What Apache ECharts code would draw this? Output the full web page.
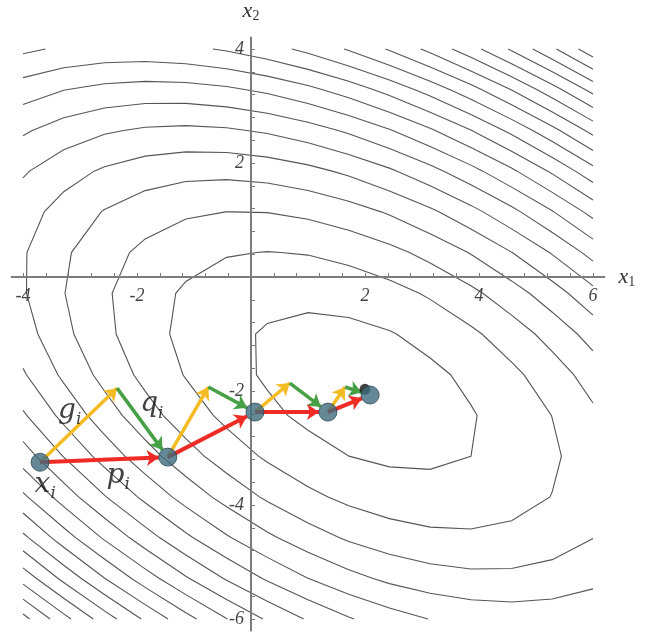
<!DOCTYPE html>
<html>
<head>
<meta charset="utf-8">
<script src="https://cdn.jsdelivr.net/npm/echarts@6/dist/echarts.min.js"></script>
<style>
html,body{margin:0;padding:0;background:#fff;}
#chart{width:655px;height:633px;}
</style>
</head>
<body>
<div id="chart"></div>
<script>
// ---- data ----
// quadratic field f = a*dx^2 + b*dx*dy + c*dy^2 around its minimum
const fieldCenter = [2, -2];
const fieldCoef = [1, 1.38, 2];
const contourLevels = [3.14, 9.14, 15.14, 21.14, 27.14, 33.14, 39.14, 45.14, 51.14, 57.14,
                       63.14, 69.14, 75.14, 81.14, 87.14, 93.14, 99.14, 105.14, 111.14, 117.14];
const sampleRangeX = [-4, 6];
const sampleRangeY = [-6, 4];
const samplePoints = 15;

// iterates x_i
const iterX = [-3.70, -1.46, 0.07, 1.35, 2.09];
const iterY = [-3.25, -3.16, -2.37, -2.37, -2.07];
// tips of the gradient (yellow) arrows
const gradTipX = [-2.35, -0.75, 0.68, 1.65];
const gradTipY = [-1.95, -1.93, -1.86, -1.93];
// true minimum (black dot)
const minimumPoint = [2.0, -1.97];

// tick labels
const xTickLabels = [-4, -2, 2, 4, 6];
const yTickLabels = [-6, -4, -2, 2, 4];
const tickStep = 0.4;

// annotations
const annotationBase = ['g', 'q', 'x', 'p'];
const annotationSub = ['i', 'i', 'i', 'i'];
const annotationX = [-3.18, -1.74, -3.61, -2.33];
const annotationY = [-2.34, -2.23, -3.65, -3.48];

// ---- layout ----
const xMin = -4.2, xMax = 6.2, yMin = -6.2, yMax = 4.2;
const gridLeft = 11.6, gridTop = 37.6, gridW = 592.8, gridH = 592.8;
const pxPerUnit = gridW / (xMax - xMin);
const pointSize = 18;
const headLen = 12;
// shift the axes so that they cross at the origin
const xAxisOffset = -(gridH * (0 - yMin) / (yMax - yMin));
const yAxisOffset = -(gridW * (0 - xMin) / (xMax - xMin));

function fieldValue(x, y) {
  const dx = x - fieldCenter[0], dy = y - fieldCenter[1];
  return fieldCoef[0] * dx * dx + fieldCoef[1] * dx * dy + fieldCoef[2] * dy * dy;
}

function traceContours(level) {
  const n = samplePoints;
  const xs = [], ys = [];
  for (let i = 0; i < n; i++) {
    xs.push(sampleRangeX[0] + (sampleRangeX[1] - sampleRangeX[0]) * i / (n - 1));
    ys.push(sampleRangeY[0] + (sampleRangeY[1] - sampleRangeY[0]) * i / (n - 1));
  }
  const val = [];
  for (let i = 0; i < n; i++) {
    val.push([]);
    for (let j = 0; j < n; j++) val[i].push(fieldValue(xs[i], ys[j]));
  }
  const pts = {};
  function edgePoint(key, i0, j0, i1, j1) {
    if (!pts[key]) {
      const a = val[i0][j0], b = val[i1][j1];
      const t = (level - a) / (b - a);
      pts[key] = [xs[i0] + (xs[i1] - xs[i0]) * t, ys[j0] + (ys[j1] - ys[j0]) * t];
    }
    return key;
  }
  const segs = [];
  for (let i = 0; i < n - 1; i++) {
    for (let j = 0; j < n - 1; j++) {
      const corners = [[i, j], [i + 1, j], [i + 1, j + 1], [i, j + 1]];
      const keys = ['h' + i + '_' + j, 'v' + (i + 1) + '_' + j, 'h' + i + '_' + (j + 1), 'v' + i + '_' + j];
      const e = [];
      for (let k = 0; k < 4; k++) {
        const p = corners[k], q = corners[(k + 1) % 4];
        if ((val[p[0]][p[1]] >= level) !== (val[q[0]][q[1]] >= level)) {
          e.push(edgePoint(keys[k], p[0], p[1], q[0], q[1]));
        }
      }
      if (e.length === 2) segs.push(e);
      else if (e.length === 4) { segs.push([e[0], e[1]]); segs.push([e[2], e[3]]); }
    }
  }
  const adj = {};
  segs.forEach((s, idx) => s.forEach(k => { (adj[k] = adj[k] || []).push(idx); }));
  const used = new Array(segs.length).fill(false);
  const out = [];
  function walk(startKey, segIdx) {
    const keys = [startKey];
    let cur = startKey, si = segIdx;
    while (si !== undefined && !used[si]) {
      used[si] = true;
      const s = segs[si];
      const next = s[0] === cur ? s[1] : s[0];
      keys.push(next);
      cur = next;
      si = (adj[cur] || []).find(x => !used[x]);
    }
    return keys.map(k => pts[k]);
  }
  Object.keys(adj).forEach(k => {
    if (adj[k].length === 1 && !used[adj[k][0]]) out.push(walk(k, adj[k][0]));
  });
  segs.forEach((s, idx) => { if (!used[idx]) out.push(walk(s[0], idx)); });
  return out;
}

const contourData = [];
contourLevels.forEach(l => traceContours(l).forEach(c => contourData.push({ coords: c })));

function arrow(from, to, backPx) {
  const dx = to[0] - from[0], dy = to[1] - from[1];
  const len = Math.hypot(dx, dy);
  const s = backPx / pxPerUnit / len;
  return { coords: [from, [to[0] - dx * s, to[1] - dy * s]] };
}

const iterPts = iterX.map((x, i) => [x, iterY[i]]);
const tipPts = gradTipX.map((x, i) => [x, gradTipY[i]]);
const redData = [], yellowData = [], greenData = [];
for (let k = 0; k < iterPts.length - 1; k++) {
  redData.push(arrow(iterPts[k], iterPts[k + 1], pointSize / 2));
  yellowData.push(arrow(iterPts[k], tipPts[k], 0));
  greenData.push(arrow(tipPts[k], iterPts[k + 1], pointSize / 2));
}

const xTickValues = [], yTickValues = [];
for (let v = -4; v <= 6.0001; v += tickStep) xTickValues.push(Math.round(v * 10) / 10);
for (let v = -6; v <= 4.0001; v += tickStep) yTickValues.push(Math.round(v * 10) / 10);

const serifFont = "'Liberation Serif', 'DejaVu Serif', serif";
const mathFont = "'DejaVu Serif', 'Liberation Serif', serif";
const nameRich = {
  v: { fontFamily: serifFont, fontStyle: 'italic', fontSize: 22, color: '#333' },
  s: { fontFamily: serifFont, fontSize: 14, color: '#333', padding: [10, 0, 0, 0] }
};
const axisLabelStyle = { fontFamily: serifFont, fontStyle: 'italic', fontSize: 18, color: '#444' };

const arrowSeries = (data, color, width) => ({
  type: 'lines', coordinateSystem: 'cartesian2d', data: data,
  symbol: ['none', 'arrow'], symbolSize: [8, headLen],
  lineStyle: { color: color, width: width, opacity: 1, curveness: 0 },
  silent: true, z: 4, animation: false
});

const chart = echarts.init(document.getElementById('chart'), null, { renderer: 'canvas' });
chart.setOption({
  backgroundColor: '#ffffff',
  animation: false,
  grid: { left: gridLeft, top: gridTop, width: gridW, height: gridH, containLabel: false, outerBoundsMode: 'none' },
  xAxis: {
    type: 'value', min: xMin, max: xMax, z: 3, position: 'bottom', offset: xAxisOffset,
    axisLine: { onZero: false, lineStyle: { color: '#7c7c7c', width: 2 } },
    axisTick: { show: true, inside: true, length: 4, customValues: xTickValues, lineStyle: { color: '#7c7c7c', width: 1 } },
    axisLabel: Object.assign({ customValues: xTickLabels, margin: 10 }, axisLabelStyle),
    splitLine: { show: false },
    name: '{v|x}{s|1}', nameLocation: 'end', nameGap: 14,
    nameTextStyle: { rich: nameRich, verticalAlign: 'middle' }
  },
  yAxis: {
    type: 'value', min: yMin, max: yMax, z: 3, position: 'left', offset: yAxisOffset,
    axisLine: { onZero: false, lineStyle: { color: '#7c7c7c', width: 2 } },
    axisTick: { show: true, inside: true, length: 4, customValues: yTickValues, lineStyle: { color: '#7c7c7c', width: 1 } },
    axisLabel: Object.assign({ customValues: yTickLabels, margin: 7 }, axisLabelStyle),
    splitLine: { show: false },
    name: '{v|x}{s|2}', nameLocation: 'end', nameGap: 14,
    nameTextStyle: { rich: nameRich }
  },
  series: [
    {
      type: 'lines', coordinateSystem: 'cartesian2d', polyline: true, data: contourData,
      lineStyle: { color: '#555555', width: 1.1, opacity: 1 }, symbol: 'none',
      silent: true, z: 1, animation: false
    },
    arrowSeries(yellowData, '#f4bc22', 3.5),
    arrowSeries(greenData, '#47a046', 3.5),
    arrowSeries(redData, '#ef2b25', 4),
    {
      type: 'scatter', data: [minimumPoint], symbolSize: 11,
      itemStyle: { color: '#111111' }, silent: true, z: 5, animation: false
    },
    {
      type: 'scatter', data: iterPts, symbolSize: pointSize,
      itemStyle: { color: '#3f6b7d', borderColor: '#2a4855', borderWidth: 1 },
      silent: true, z: 6, animation: false
    },
    {
      type: 'scatter', symbolSize: 0, itemStyle: { color: 'transparent' }, silent: true, z: 7, animation: false,
      data: annotationX.map((x, i) => [x, annotationY[i]]),
      label: {
        show: true, position: 'inside',
        formatter: p => '{v|' + annotationBase[p.dataIndex] + '}{s|' + annotationSub[p.dataIndex] + '}',
        rich: {
          v: { fontFamily: mathFont, fontStyle: 'italic', fontSize: 28, color: '#111' },
          s: { fontFamily: mathFont, fontStyle: 'italic', fontSize: 17, color: '#111', padding: [18, 0, 0, 0] }
        }
      }
    }
  ]
});
</script>
</body>
</html>
